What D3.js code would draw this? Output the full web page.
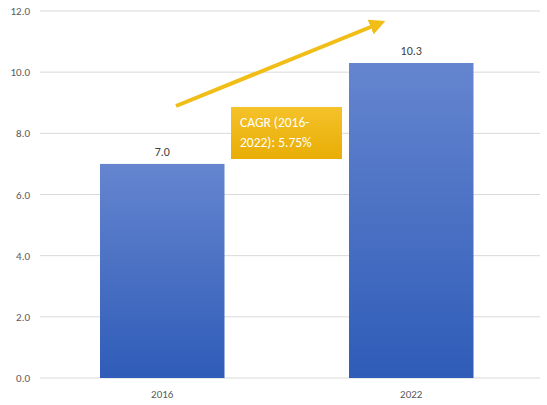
<!DOCTYPE html><html><head><meta charset="utf-8">
<script src="https://cdn.jsdelivr.net/npm/d3@7"></script>
<style>body{margin:0;background:#fff}</style></head><body>
<svg id="c" width="547" height="405"></svg>
<script>
const categories=["2016","2022"];
const values=[7.0,10.3];
const yTicks=[0,2,4,6,8,10,12];
const cagrLines=["CAGR (2016-","2022): 5.75%"];
const svg=d3.select("#c");
const font="Calibri, Carlito, 'Open Sans', sans-serif";
const y=d3.scaleLinear().domain([0,12]).range([378,11]);
const xb=d3.scaleBand().domain(categories).range([100,473.5]).paddingInner(0.5).paddingOuter(0);
const defs=svg.append("defs");
const g=defs.append("linearGradient").attr("id","bg").attr("x1",0).attr("y1",0).attr("x2",0).attr("y2",1);
g.append("stop").attr("offset","0%").attr("stop-color","#6585cf");
g.append("stop").attr("offset","100%").attr("stop-color","#2f5cb8");
const gg=defs.append("linearGradient").attr("id","gg").attr("x1",0).attr("y1",0).attr("x2",0).attr("y2",1);
gg.append("stop").attr("offset","0%").attr("stop-color","#f5c22a");
gg.append("stop").attr("offset","100%").attr("stop-color","#e8ad06");
const m=defs.append("marker").attr("id","ah").attr("viewBox","0 0 10 10").attr("refX",5).attr("refY",5)
 .attr("markerWidth",4).attr("markerHeight",4).attr("orient","auto");
m.append("path").attr("d","M0,0L10,5L0,10z").attr("fill","#f1bd17");
svg.selectAll(".gl").data(yTicks).enter().append("line")
 .attr("x1",40).attr("x2",540).attr("y1",d=>y(d)).attr("y2",d=>y(d))
 .attr("stroke","#d9d9d9").attr("stroke-width",1);
svg.selectAll(".yl").data(yTicks).enter().append("text")
 .attr("x",30).attr("y",d=>y(d)+4).attr("text-anchor","end").attr("font-family",font)
 .attr("font-size",11).attr("fill","#595959").text(d=>d.toFixed(1));
svg.selectAll(".bar").data(values).enter().append("rect")
 .attr("x",(d,i)=>xb(categories[i])).attr("width",xb.bandwidth())
 .attr("y",d=>y(d)).attr("height",d=>y(0)-y(d)).attr("fill","url(#bg)");
svg.selectAll(".vl").data(values).enter().append("text")
 .attr("x",(d,i)=>xb(categories[i])+xb.bandwidth()/2).attr("y",d=>y(d)-8)
 .attr("text-anchor","middle").attr("font-family",font).attr("font-size",12).attr("fill","#404040")
 .text(d=>d.toFixed(1));
svg.selectAll(".xl").data(categories).enter().append("text")
 .attr("x",d=>xb(d)+xb.bandwidth()/2).attr("y",398).attr("text-anchor","middle")
 .attr("font-family",font).attr("font-size",11).attr("fill","#595959").text(d=>d);
svg.append("line").attr("x1",176).attr("y1",106).attr("x2",378).attr("y2",24)
 .attr("stroke","#f1bd17").attr("stroke-width",4).attr("marker-end","url(#ah)");
svg.append("rect").attr("x",231).attr("y",107).attr("width",111).attr("height",52).attr("fill","url(#gg)");
svg.selectAll(".cg").data(cagrLines).enter().append("text")
 .attr("x",240).attr("y",(d,i)=>127+i*20).attr("font-family",font).attr("font-size",13.5)
 .attr("fill","#fff").text(d=>d);
</script></body></html>
